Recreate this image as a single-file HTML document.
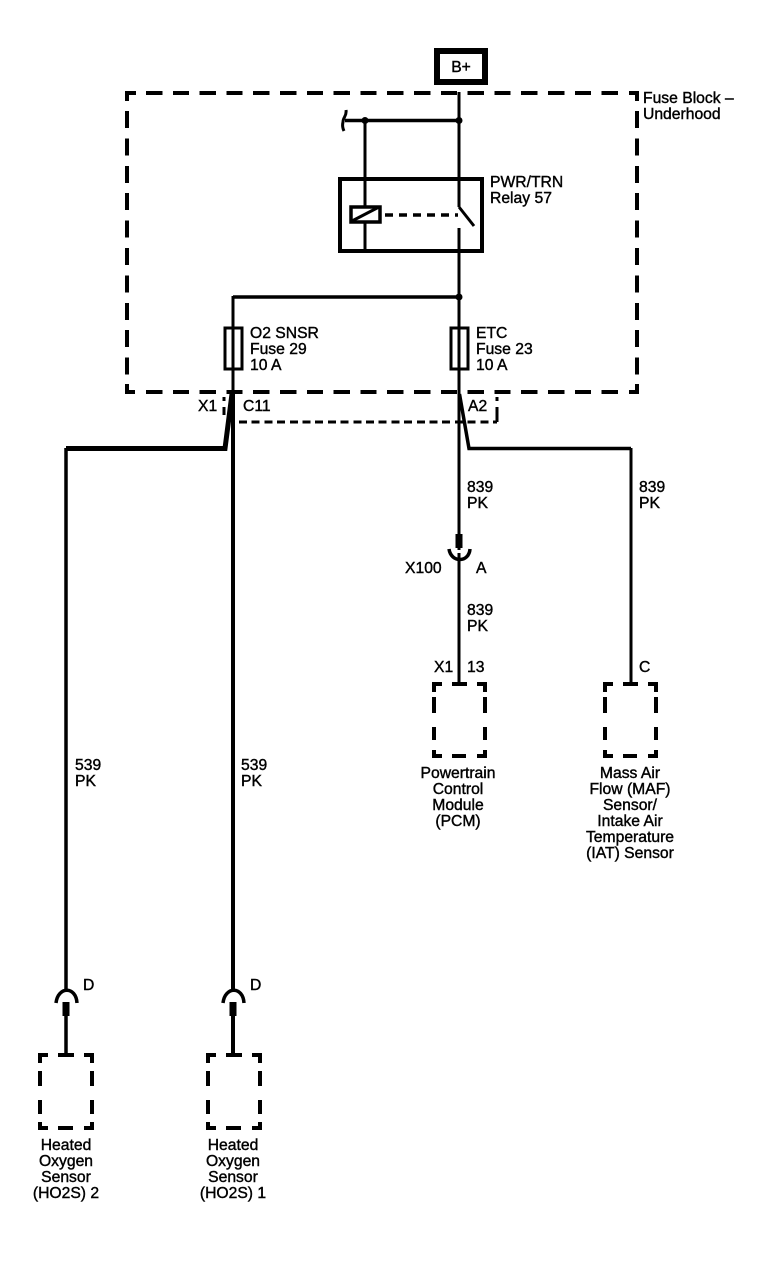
<!DOCTYPE html>
<html><head><meta charset="utf-8"><style>
html,body{margin:0;padding:0;background:#fff}
svg{display:block}
text{font-family:"Liberation Sans",sans-serif;font-size:15.7px;fill:#000;stroke:#000;stroke-width:.4px}
.m{text-anchor:middle}
</style></head><body>
<svg width="780" height="1264" viewBox="0 0 780 1264" xmlns="http://www.w3.org/2000/svg">
<g fill="none" stroke="#000">
<!-- B+ -->
<rect x="437" y="51" width="48" height="31" stroke-width="6"/>
<!-- Fuse block dashed outline -->
<g stroke-width="4" shape-rendering="crispEdges">
<path d="M136 93H127V101"/>
<path d="M146 93H622" stroke-dasharray="16.3 10.5"/>
<path d="M629 93H637V101"/>
<path d="M637 111V375" stroke-dasharray="17 10.4"/>
<path d="M629 392H637V384"/>
<path d="M146 392H622" stroke-dasharray="16.3 10.5"/>
<path d="M135 392H127V384"/>
<path d="M127 111V375" stroke-dasharray="17 10.4"/>
</g>
<!-- Lower connector dashed -->
<g stroke-width="3" shape-rendering="crispEdges">
<path d="M239 422H497" stroke-dasharray="8 4.7"/>
<path d="M224 397V401M224 407V415M497 397V401M497 407V422"/>
</g>
<!-- Main wires -->
<path d="M459 92V207M459 228V550M459 553V683" stroke-width="3"/>
<path d="M345 120.500H459" stroke-width="3.500"/>
<path d="M346 110C347 116 343 117 343 122C342 126 343 129 344 131" stroke-width="3"/>
<path d="M365 120V253" stroke-width="3"/>
<!-- Relay -->
<rect x="340" y="179" width="142" height="72" stroke-width="4"/>
<rect x="351" y="207" width="29" height="15" fill="#fff" stroke-width="3.500"/>
<path d="M352 221L379 207" stroke-width="3"/>
<path d="M385 215H458" stroke-width="3.500" stroke-dasharray="8 6"/>
<path d="M459 207L474 226" stroke-width="3"/>
<path d="M233 297H459" stroke-width="3.500"/>
<!-- Left wire -->
<path d="M233 296V392" stroke-width="3"/>
<path d="M233 392V992M233 1002V1053" stroke-width="4"/>
<!-- Fuses -->
<rect x="225" y="328" width="17" height="41" stroke-width="3"/>
<rect x="451" y="328" width="17" height="41" stroke-width="3"/>
<!-- Branches -->
<path d="M232 394L225 448.500H66" stroke-width="5"/>
<path d="M66 448V992M66 1002V1053" stroke-width="3.500"/>
<path d="M459.500 394L469 448.500H631" stroke-width="3.500"/>
<path d="M631 448V683" stroke-width="3"/>
<!-- X100 -->
<path d="M449 549C451 563 469 563 470 549" stroke-width="3.500"/>
<path d="M459 534V548" stroke-width="7"/>
<!-- D connectors -->
<path d="M56 1003C58 986 76 986 77 1003" stroke-width="3.500"/>
<path d="M66 1002V1016" stroke-width="7"/>
<path d="M223 1003C225 986 243 986 244 1003" stroke-width="3.500"/>
<path d="M233 1002V1016" stroke-width="7"/>
</g>
<g fill="#000">
<circle cx="365" cy="120.500" r="3.500"/><circle cx="459" cy="120.500" r="3.500"/><circle cx="459" cy="297" r="3.500"/>
</g>
<!-- Component boxes -->
<g fill="none" stroke="#000" stroke-width="4" shape-rendering="crispEdges">
<path d="M442 684H434V692M452 684H467M477 684H485V692M434 697V713M434 727V740M434 750V756H442M452 756H466M477 756H485V750M485 697V713M485 727V740"/>
<path d="M613 684H605V692M623 684H638M648 684H656V692M605 697V713M605 727V740M605 750V756H613M623 756H637M648 756H656V750M656 697V713M656 727V740"/>
<path d="M48 1055H40V1063M58 1055H74M84 1055H92V1063M40 1071V1086M40 1100V1114M40 1122V1128H48M58 1128H73M84 1128H92V1122M92 1071V1086M92 1100V1114"/>
<path d="M216 1055H208V1063M226 1055H242M252 1055H260V1063M208 1071V1086M208 1100V1114M208 1122V1128H216M226 1128H241M252 1128H260V1122M260 1071V1086M260 1100V1114"/>
</g>
<!-- Text -->
<text x="461" y="72" class="m">B+</text>
<text x="643" y="103">Fuse Block –</text>
<text x="643" y="119">Underhood</text>
<text x="490" y="187">PWR/TRN</text>
<text x="490" y="203">Relay 57</text>
<text x="250" y="338">O2 SNSR</text>
<text x="250" y="354">Fuse 29</text>
<text x="250" y="370">10 A</text>
<text x="476" y="338">ETC</text>
<text x="476" y="354">Fuse 23</text>
<text x="476" y="370">10 A</text>
<text x="198" y="411">X1</text>
<text x="243" y="411">C11</text>
<text x="468" y="411">A2</text>
<text x="467" y="492">839</text>
<text x="467" y="508">PK</text>
<text x="639" y="492">839</text>
<text x="639" y="508">PK</text>
<text x="405" y="573">X100</text>
<text x="476" y="573">A</text>
<text x="467" y="615">839</text>
<text x="467" y="631">PK</text>
<text x="434" y="672">X1</text>
<text x="467" y="672">13</text>
<text x="639" y="672">C</text>
<text x="75" y="770">539</text>
<text x="75" y="786">PK</text>
<text x="241" y="770">539</text>
<text x="241" y="786">PK</text>
<text x="458" y="778" class="m">Powertrain</text>
<text x="458" y="794" class="m">Control</text>
<text x="458" y="810" class="m">Module</text>
<text x="458" y="826" class="m">(PCM)</text>
<text x="630" y="778" class="m">Mass Air</text>
<text x="630" y="794" class="m">Flow (MAF)</text>
<text x="630" y="810" class="m">Sensor/</text>
<text x="630" y="826" class="m">Intake Air</text>
<text x="630" y="842" class="m">Temperature</text>
<text x="630" y="858" class="m">(IAT) Sensor</text>
<text x="66" y="1150" class="m">Heated</text>
<text x="66" y="1166" class="m">Oxygen</text>
<text x="66" y="1182" class="m">Sensor</text>
<text x="66" y="1198" class="m">(HO2S) 2</text>
<text x="233" y="1150" class="m">Heated</text>
<text x="233" y="1166" class="m">Oxygen</text>
<text x="233" y="1182" class="m">Sensor</text>
<text x="233" y="1198" class="m">(HO2S) 1</text>
<text x="83" y="990">D</text>
<text x="250" y="990">D</text>
</svg>
</body></html>
